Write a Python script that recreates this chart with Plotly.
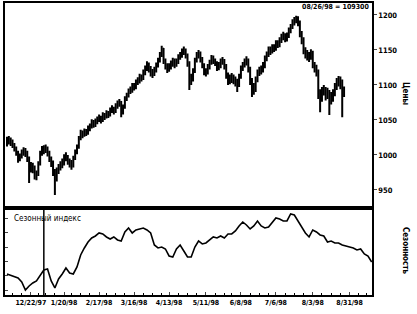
import pandas as pd
import plotly.graph_objects as go

holidays = ['1997-12-25', '1998-01-01', '1998-01-19', '1998-02-16',
            '1998-04-10', '1998-05-25', '1998-07-03', '1998-09-07']

first_open = 1018
closes = [
    1021, 1022, 1020, 1015, 1010, 1004, 995, 998, 1003, 1006,
    1003, 996, 984, 983, 982, 970, 972, 988, 1003, 1007,
    1008, 1010, 1004, 996, 990, 976, 967, 978, 982, 986,
    989, 996, 998, 992, 989, 985, 996, 1004, 1011, 1024,
    1031, 1029, 1034, 1032, 1038, 1041, 1047, 1044, 1048, 1051,
    1053, 1050, 1057, 1055, 1060, 1058, 1064, 1066, 1063, 1070,
    1073, 1076, 1062, 1068, 1081, 1085, 1091, 1093, 1099, 1097,
    1104, 1106, 1112, 1110, 1118, 1124, 1130, 1124, 1118, 1117,
    1122, 1128, 1135, 1143, 1152, 1135, 1128, 1124, 1126, 1130,
    1135, 1130, 1134, 1140, 1143, 1148, 1150, 1143, 1132, 1110,
    1109, 1120, 1136, 1143, 1146, 1137, 1129, 1120, 1118, 1126,
    1132, 1139, 1135, 1132, 1126, 1128, 1134, 1135, 1128, 1115,
    1107, 1109, 1111, 1108, 1106, 1100, 1112, 1124, 1129, 1133,
    1136, 1124, 1108, 1098, 1094, 1108, 1118, 1121, 1123, 1128,
    1138, 1143, 1151, 1149, 1154, 1152, 1160, 1158, 1164, 1169,
    1171, 1166, 1170, 1178, 1183, 1190, 1193, 1196, 1190, 1174,
    1165, 1150, 1145, 1142, 1140, 1146, 1129, 1125, 1120, 1088,
    1082, 1092, 1094, 1087, 1090, 1081, 1084, 1088, 1098, 1105,
    1109, 1104, 1090, 1093,
]
highs = [
    1026, 1027, 1025, 1022, 1017, 1012, 1006, 1002, 1008, 1011,
    1010, 1006, 998, 990, 989, 985, 978, 991, 1006, 1013,
    1014, 1015, 1012, 1006, 998, 992, 980, 982, 987, 991,
    995, 1001, 1004, 1000, 995, 993, 999, 1008, 1015, 1027,
    1036, 1035, 1038, 1037, 1042, 1045, 1051, 1050, 1052, 1055,
    1058, 1056, 1061, 1060, 1064, 1063, 1068, 1071, 1069, 1074,
    1078, 1080, 1077, 1072, 1084, 1089, 1095, 1098, 1103, 1103,
    1108, 1111, 1116, 1115, 1122, 1128, 1134, 1132, 1127, 1123,
    1126, 1132, 1139, 1147, 1156, 1153, 1138, 1131, 1131, 1135,
    1139, 1138, 1138, 1144, 1147, 1152, 1155, 1152, 1145, 1134,
    1116, 1124, 1139, 1147, 1150, 1148, 1140, 1131, 1124, 1130,
    1136, 1143, 1142, 1138, 1134, 1133, 1138, 1140, 1137, 1130,
    1118, 1115, 1117, 1115, 1112, 1109, 1116, 1128, 1133, 1138,
    1141, 1138, 1126, 1110, 1103, 1112, 1122, 1126, 1128, 1133,
    1142, 1148, 1155, 1155, 1158, 1158, 1164, 1164, 1168, 1173,
    1176, 1174, 1175, 1182, 1187, 1194, 1197, 1199, 1198, 1192,
    1177, 1168, 1154, 1150, 1147, 1151, 1149, 1133, 1129, 1122,
    1094, 1097, 1100, 1097, 1096, 1093, 1090, 1094, 1103, 1110,
    1113, 1112, 1108, 1098,
]
lows = [
    1012, 1015, 1013, 1010, 1005, 999, 989, 991, 995, 999,
    997, 990, 960, 975, 974, 965, 964, 970, 985, 999,
    1001, 1003, 998, 990, 983, 970, 943, 962, 973, 978,
    981, 985, 991, 986, 982, 979, 982, 993, 1001, 1009,
    1021, 1024, 1026, 1027, 1029, 1034, 1038, 1039, 1040, 1044,
    1047, 1045, 1047, 1050, 1052, 1053, 1055, 1060, 1058, 1060,
    1066, 1069, 1054, 1058, 1066, 1077, 1082, 1087, 1089, 1092,
    1094, 1100, 1102, 1105, 1107, 1114, 1120, 1118, 1112, 1110,
    1113, 1118, 1125, 1132, 1140, 1130, 1122, 1117, 1119, 1122,
    1126, 1124, 1126, 1130, 1136, 1139, 1143, 1138, 1126, 1093,
    1100, 1105, 1117, 1132, 1138, 1132, 1124, 1114, 1112, 1115,
    1122, 1129, 1130, 1127, 1120, 1121, 1124, 1129, 1122, 1109,
    1100, 1101, 1103, 1101, 1098, 1090, 1097, 1109, 1120, 1125,
    1128, 1118, 1100, 1083, 1086, 1090, 1104, 1113, 1115, 1118,
    1124, 1134, 1140, 1143, 1145, 1147, 1149, 1153, 1154, 1160,
    1164, 1161, 1162, 1167, 1174, 1180, 1185, 1188, 1184, 1168,
    1158, 1144, 1138, 1135, 1133, 1136, 1124, 1118, 1112, 1080,
    1061, 1076, 1085, 1078, 1080, 1057, 1072, 1076, 1084, 1093,
    1098, 1094, 1054, 1083,
]

season_vals = [
    22, 20.5, 19, 18, 14, 6, 10, 13, 15, 20,
    26, 27, 15, 8, 17, 22, 28, 23, 22, 29,
    41, 48, 54, 58, 60, 63, 62, 59, 57, 59,
    56, 55, 64, 68, 63, 66, 67, 68, 66, 63,
    51, 48, 49, 47, 40, 39, 47, 51, 45, 39,
    39, 49, 55, 52, 53, 56, 59, 58, 60, 58,
    62, 62, 65, 70, 74, 71, 67, 70, 75, 70,
    68, 69, 74, 78, 77, 75, 75, 82, 81, 75,
    69, 63, 59, 66, 64, 61, 60, 54, 55, 53,
    53, 51, 50, 49, 48, 46, 47, 42, 40, 34,
]

tick_dates = ['1997-12-22', '1998-01-20', '1998-02-17', '1998-03-16', '1998-04-13',
              '1998-05-11', '1998-06-08', '1998-07-06', '1998-08-03', '1998-08-31']
tick_text = ['12/22/97', '1/20/98', '2/17/98', '3/16/98', '4/13/98',
             '5/11/98', '6/8/98', '7/6/98', '8/3/98', '8/31/98']
price_ticks = [950, 1000, 1050, 1100, 1150, 1200]
year_mark = '1998-01-02'
last_label = '08/26/98 = 109300'

days = [d for d in pd.bdate_range('1997-12-03', '1998-09-17')
        if d.strftime('%Y-%m-%d') not in holidays]
price_dates = days[:len(closes)]
opens = [first_open] + closes[:-1]
season_dates = days[::2][:len(season_vals)]

FONT = 'Liberation Sans Narrow, DejaVu Sans Condensed, Liberation Sans, Arial'
breaks = [dict(bounds=['sat', 'mon']), dict(values=holidays)]
xrange = ['1997-12-01 22:00', '1998-09-17 04:00']
split = 0.298

fig = go.Figure()
fig.add_trace(go.Ohlc(
    x=price_dates, open=opens, high=highs, low=lows, close=closes,
    increasing_line_color='black', decreasing_line_color='black',
    line_width=2, tickwidth=0.3, xaxis='x', yaxis='y', showlegend=False,
    hoverinfo='skip'))
fig.add_trace(go.Scatter(
    x=season_dates, y=season_vals, mode='lines',
    line=dict(color='black', width=1.6), xaxis='x2', yaxis='y2',
    showlegend=False, hoverinfo='skip'))

axis_common = dict(showline=True, mirror=True, linecolor='black', linewidth=1.5,
                   showgrid=False, zeroline=False)

fig.update_layout(
    width=417, height=314,
    margin=dict(l=5, r=45, t=3, b=19, autoexpand=False),
    paper_bgcolor='white', plot_bgcolor='white',
    font=dict(family=FONT, color='black', size=8),
    xaxis=dict(domain=[0, 1], anchor='y', matches='x2', range=xrange,
               rangebreaks=breaks, showticklabels=False, ticks='',
               rangeslider=dict(visible=False), **axis_common),
    yaxis=dict(domain=[split, 1], anchor='x', side='right', range=[924.3, 1217.1],
               tickvals=price_ticks, ticks='outside', ticklen=3, tickwidth=1,
               tickfont=dict(family=FONT, size=7.5, weight='bold'), **axis_common),
    xaxis2=dict(domain=[0, 1], anchor='y2', range=xrange, rangebreaks=breaks,
                tickvals=tick_dates, ticktext=tick_text, ticks='inside', ticklen=3,
                tickangle=0, automargin=False,
                tickfont=dict(family=FONT, size=7, weight='bold'),
                minor=dict(ticks='inside', ticklen=2, dtick=7 * 86400000,
                           tick0='1997-12-01', tickcolor='black'),
                **axis_common),
    yaxis2=dict(domain=[0, split], anchor='x2', side='left', range=[1, 88],
                tickvals=[6, 20, 34, 48, 63, 77], ticks='inside', ticklen=3,
                showticklabels=False, **axis_common),
    shapes=[
        dict(type='line', xref='paper', yref='paper', x0=0, x1=1, y0=split, y1=split,
             line=dict(color='black', width=3)),
        dict(type='line', xref='x2', yref='y2 domain', x0=year_mark, x1=year_mark,
             y0=0, y1=1, line=dict(color='black', width=1.5)),
    ],
    annotations=[
        dict(text=last_label, xref='paper', yref='paper', x=0.997, y=0.985,
             xanchor='right', yanchor='middle', showarrow=False,
             font=dict(family=FONT, size=7, weight='bold')),
        dict(text='Цены', xref='paper', yref='paper', x=1.09, y=0.692,
             xanchor='center', yanchor='middle', textangle=90, showarrow=False,
             font=dict(family=FONT, size=8, weight='bold')),
        dict(text='Сезонность', xref='paper', yref='paper', x=1.09, y=0.151,
             xanchor='center', yanchor='middle', textangle=90, showarrow=False,
             font=dict(family=FONT, size=8, weight='bold')),
        dict(text='Сезонный индекс', xref='paper', yref='paper', x=0.02, y=0.262,
             xanchor='left', yanchor='middle', showarrow=False,
             font=dict(family=FONT, size=8)),
    ],
)

fig.write_html('out.html')
